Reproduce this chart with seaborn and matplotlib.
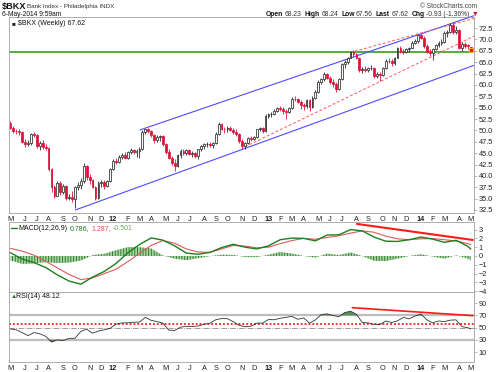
import numpy as np
import pandas as pd
import matplotlib
matplotlib.use("Agg")
import matplotlib.pyplot as plt
import seaborn as sns

sns.set_theme(style="white")
plt.rcParams["font.family"] = ["Liberation Sans", "DejaVu Sans"]
plt.rcParams["hatch.linewidth"] = 0.7

# ---------------- data (weekly $BKX, first bar = week of 2 May 2011) ----------------
start_date = "2011-05-02"
opens = [51.7, 50.6, 49.9, 49.8, 49.6, 47.5, 47.0, 47.2, 49.2, 49.0,
         46.6, 47.3, 46.3, 46.1, 41.5, 37.5, 35.6, 38.5, 36.4, 37.8,
         35.2, 35.4, 35.0, 37.5, 38.0, 38.8, 42.2, 39.8, 39.0, 37.6,
         35.2, 38.5, 38.6, 37.8, 38.9, 41.5, 43.3, 43.0, 44.2, 44.6,
         44.0, 45.3, 45.6, 45.2, 45.4, 45.8, 49.6, 50.2, 49.9, 49.0,
         47.8, 48.6, 48.7, 47.0, 45.2, 44.0, 42.8, 42.2, 44.5, 45.5,
         45.0, 45.7, 44.8, 45.0, 44.3, 45.8, 46.6, 46.9, 47.0, 46.8,
         47.2, 49.3, 51.4, 50.3, 50.2, 50.6, 50.0, 49.6, 49.2, 47.6,
         46.6, 47.3, 48.3, 48.2, 48.6, 50.2, 50.5, 49.8, 53.2, 53.5,
         53.7, 54.3, 55.0, 54.6, 54.3, 54.0, 55.0, 57.0, 56.8, 56.3,
         55.6, 55.3, 56.6, 55.2, 57.2, 58.5, 60.7, 61.2, 62.4, 61.6,
         60.6, 60.3, 59.0, 61.3, 64.5, 65.0, 66.0, 67.2, 66.7, 65.9,
         63.2, 63.6, 63.2, 63.7, 63.8, 62.0, 62.4, 62.2, 63.8, 65.3,
         65.2, 64.8, 66.0, 68.0, 67.4, 67.2, 67.8, 68.2, 69.3, 69.6,
         70.9, 70.4, 68.6, 67.3, 66.9, 67.9, 68.7, 69.3, 69.5, 71.4,
         71.6, 73.2, 71.6, 72.0, 68.2, 69.0, 68.6, 68.23]
highs = [52.0, 51.0, 50.4, 50.2, 49.8, 48.0, 47.8, 49.5, 49.6, 49.3,
         47.6, 47.8, 47.0, 46.4, 41.8, 38.0, 38.8, 38.9, 38.2, 38.0,
         36.0, 36.6, 37.8, 38.6, 39.5, 42.8, 42.3, 40.4, 39.4, 37.8,
         38.8, 39.2, 39.0, 39.2, 41.8, 43.6, 44.0, 44.5, 45.0, 45.2,
         45.5, 46.2, 46.0, 45.8, 46.3, 50.0, 50.4, 50.5, 50.1, 49.2,
         49.0, 49.0, 49.0, 47.3, 45.8, 44.3, 43.6, 44.8, 45.8, 46.0,
         45.9, 46.0, 45.4, 45.3, 46.0, 46.8, 47.3, 47.4, 47.5, 47.4,
         49.6, 51.8, 51.7, 50.8, 51.0, 51.0, 50.6, 50.3, 49.5, 48.0,
         47.5, 48.6, 48.7, 48.8, 50.4, 50.8, 50.7, 53.5, 53.8, 54.0,
         54.6, 55.2, 55.3, 55.2, 54.6, 55.2, 57.3, 57.6, 57.2, 56.6,
         56.0, 57.0, 57.0, 57.5, 58.8, 61.0, 61.6, 62.8, 62.6, 61.9,
         61.2, 60.6, 61.6, 64.8, 65.4, 66.2, 67.5, 67.6, 67.0, 66.1,
         64.0, 64.2, 64.0, 64.4, 64.0, 62.8, 62.8, 64.0, 65.6, 65.8,
         65.6, 66.2, 68.3, 68.5, 67.8, 68.0, 68.4, 69.6, 70.0, 71.2,
         71.3, 70.8, 69.0, 67.8, 68.2, 69.0, 69.6, 70.0, 71.8, 72.0,
         73.6, 73.9, 72.9, 72.3, 69.4, 69.4, 69.0, 68.24]
lows = [50.3, 49.5, 49.2, 49.0, 47.2, 46.4, 46.5, 46.8, 48.5, 46.2,
        45.7, 46.0, 45.6, 41.0, 36.5, 35.2, 35.5, 35.8, 36.0, 34.8,
        34.8, 34.2, 33.0, 36.8, 37.2, 38.5, 39.2, 38.3, 37.3, 34.8,
        35.0, 37.6, 37.2, 37.5, 38.6, 41.2, 42.6, 42.8, 43.8, 43.6,
        43.8, 44.8, 44.8, 44.2, 44.0, 45.6, 49.2, 49.4, 48.6, 47.2,
        47.4, 47.6, 46.6, 44.8, 43.6, 42.5, 41.0, 42.0, 44.0, 44.6,
        44.6, 44.5, 44.2, 43.9, 43.8, 45.4, 46.0, 46.3, 46.4, 46.2,
        47.0, 49.0, 50.0, 49.5, 49.6, 49.8, 49.2, 48.8, 47.3, 46.0,
        45.9, 47.0, 47.6, 47.8, 48.4, 49.8, 49.4, 49.6, 52.8, 53.0,
        53.4, 54.0, 54.2, 53.5, 52.6, 53.8, 54.8, 56.4, 56.0, 54.6,
        54.5, 55.0, 54.3, 55.0, 57.0, 58.3, 60.2, 60.8, 61.2, 60.2,
        59.6, 58.4, 58.8, 61.0, 63.8, 64.6, 65.8, 66.2, 65.6, 62.8,
        62.6, 62.8, 62.8, 63.2, 61.6, 61.5, 60.9, 62.0, 63.6, 64.8,
        64.2, 64.4, 65.8, 67.0, 66.8, 66.9, 67.2, 68.0, 69.0, 69.3,
        70.0, 68.2, 67.0, 66.3, 65.4, 67.6, 68.4, 68.8, 69.2, 70.6,
        71.4, 71.2, 71.2, 67.8, 67.4, 68.0, 67.8, 67.56]
closes = [50.6, 49.9, 49.8, 49.6, 47.5, 47.0, 47.2, 49.2, 49.0, 46.6,
          47.3, 46.3, 46.1, 41.5, 37.5, 35.6, 38.5, 36.4, 37.8, 35.2,
          35.4, 35.0, 37.5, 38.0, 38.8, 42.2, 39.8, 39.0, 37.6, 35.2,
          38.5, 38.6, 37.8, 38.9, 41.5, 43.3, 43.0, 44.2, 44.6, 44.0,
          45.3, 45.6, 45.2, 45.4, 45.8, 49.6, 50.2, 49.9, 49.0, 47.8,
          48.6, 48.7, 47.0, 45.2, 44.0, 42.8, 42.2, 44.5, 45.5, 45.0,
          45.7, 44.8, 45.0, 44.3, 45.8, 46.6, 46.9, 47.0, 46.8, 47.2,
          49.3, 51.4, 50.3, 50.2, 50.6, 50.0, 49.6, 49.2, 47.6, 46.6,
          47.3, 48.3, 48.2, 48.6, 50.2, 50.5, 49.8, 53.2, 53.5, 53.7,
          54.3, 55.0, 54.6, 54.3, 54.0, 55.0, 57.0, 56.8, 56.3, 55.6,
          55.3, 56.6, 55.2, 57.2, 58.5, 60.7, 61.2, 62.4, 61.6, 60.6,
          60.3, 59.0, 61.3, 64.5, 65.0, 66.0, 67.2, 66.7, 65.9, 63.2,
          63.6, 63.2, 63.7, 63.8, 62.0, 62.4, 62.2, 63.8, 65.3, 65.2,
          64.8, 66.0, 68.0, 67.4, 67.2, 67.8, 68.2, 69.3, 69.6, 70.9,
          70.4, 68.6, 67.3, 66.9, 67.9, 68.7, 69.3, 69.5, 71.4, 71.6,
          73.2, 71.6, 72.0, 68.2, 69.0, 68.6, 68.55, 67.62]

# MACD(12,26,9) read every 4 weeks (plus last week)
macd_weeks = list(range(0, 157, 4)) + [157]
macd_line = [0.37, -0.35, -0.75, -1.3, -2.15, -2.85, -3.2, -2.4, -1.75, -0.85,
             0.35, 1.3, 2.05, 1.8, 1.15, 0.33, 0.2, 0.4, 0.95, 1.33,
             1.0, 0.8, 1.15, 1.85, 2.03, 2.0, 1.72, 2.38, 2.4, 3.0,
             2.85, 2.15, 1.68, 1.65, 1.85, 2.15, 1.92, 1.55, 1.78, 1.1, 0.786]
macd_signal = [0.87, 0.55, 0.1, -0.6, -1.35, -2.1, -2.68, -2.5, -2.0, -1.5,
               -0.65, 0.3, 1.2, 1.75, 1.45, 0.8, 0.45, 0.42, 0.8, 1.2,
               1.12, 0.93, 1.0, 1.4, 1.75, 2.0, 1.9, 2.1, 2.3, 2.6,
               2.85, 2.7, 2.25, 1.95, 1.85, 1.95, 1.98, 1.85, 1.7, 1.4, 1.287]

# RSI(14) read every 2 weeks (plus last week)
rsi_weeks = list(range(0, 157, 2)) + [157]
rsi_vals = [47.9, 46.5, 42, 37, 42, 40, 36, 26.5, 30, 29,
            32.5, 32.6, 44, 47.5, 41, 44.5, 46.5, 49, 55.8, 57.8,
            58, 59, 59.2, 67, 62, 60, 57.5, 46, 45.5, 50.8,
            52.4, 52, 52.8, 55.5, 57.2, 63, 65, 64.8, 59.8, 54,
            51.5, 52.5, 57.5, 57.5, 63.4, 63, 65.5, 67, 68.6, 63.8,
            66, 57.5, 62.8, 71.5, 72.6, 70, 68, 74.8, 77, 72,
            58.5, 57.9, 55.5, 55, 61, 58.5, 61.2, 66.8, 64.5, 69.2,
            72.5, 63, 58, 61, 60, 62.4, 62.8, 51.7, 50, 48.12]

# drawn annotation lines: (week, value) end points
channel_low = ([22.1, 158.1], [32.5, 64.3])
channel_high = ([44.2, 158.1], [50.1, 75.2])
dashed_low = ([80.0, 158.1], [46.4, 70.7])
dashed_high = ([115.8, 158.1], [67.1, 74.6])
support_level = 67.2
macd_trend = ([118.2, 157.7], [3.64, 1.82])
rsi_trend = ([116.6, 157.7], [82.8, 69.7])
rsi_dotted_level = 55.6

# ---------------- figure ----------------
W, H = 500, 372
fig = plt.figure(figsize=(W / 100, H / 100), dpi=100)
fig.patch.set_facecolor("white")


def rect(x0, y0, x1, y1):
    return [x0 / W, 1 - y1 / H, (x1 - x0) / W, (y1 - y0) / H]


axp = fig.add_axes(rect(9, 17, 474, 213))
axm = fig.add_axes(rect(9, 222, 474, 292))
axr = fig.add_axes(rect(9, 292, 474, 362))

RED = "#dc143c"
BLK = "#2a2a2a"
XMAX = 158.1

wk = np.arange(len(closes))
o, h, l, c = (np.array(a, dtype=float) for a in (opens, highs, lows, closes))
prev = np.r_[np.inf, c[:-1]]
col = np.where(c < prev, RED, BLK)
up = c >= o

axp.vlines(wk, l, h, colors=col, lw=0.6, zorder=3)
body_up = np.maximum(c - o, 0.12)
body_dn = np.maximum(o - c, 0.12)
axp.bar(wk[up], body_up[up], bottom=o[up], width=0.62, facecolor="white",
        edgecolor=list(col[up]), linewidth=0.55, zorder=4)
axp.bar(wk[~up], body_dn[~up], bottom=c[~up], width=0.62, color=list(col[~up]),
        edgecolor=list(col[~up]), linewidth=0.55, zorder=4)

axp.axhline(support_level, color="#4aa52e", lw=1.3, zorder=2)
axp.plot(*channel_low, color="#4d4dff", lw=0.8, zorder=2)
axp.plot(*channel_high, color="#4d4dff", lw=0.8, zorder=2, clip_on=False)
axp.plot(*dashed_low, color="#ff5a5a", lw=0.7, ls=(0, (3, 2)), zorder=2)
axp.plot(*dashed_high, color="#ff5a5a", lw=0.7, ls=(0, (3, 2)), zorder=2)
axp.scatter([wk[-1]], [c[-1]], marker="s", s=9, facecolor="#e02020",
            edgecolor="#ffb000", linewidth=0.7, zorder=6)
axp.set_ylim(31.84, 74.92)
axp.set_yticks(np.arange(32.5, 73.0, 2.5))
axp.yaxis.set_major_formatter(matplotlib.ticker.FormatStrFormatter("%.1f"))

# MACD panel
hist = np.array(macd_line) - np.array(macd_signal)
axm.fill_between(macd_weeks, 0, hist, facecolor="#a9d3a2", edgecolor="#2f7f2f",
                 hatch="||||||", linewidth=0, zorder=1)
sns.lineplot(x=macd_weeks, y=macd_signal, ax=axm, color="#e05a5a", lw=0.8,
             sort=False, estimator=None, zorder=3)
sns.lineplot(x=macd_weeks, y=macd_line, ax=axm, color="#1f7f1f", lw=1.0,
             sort=False, estimator=None, zorder=4)
axm.plot(*macd_trend, color="#ff1a1a", lw=1.5, zorder=5)
axm.set_ylim(-4.09, 3.86)
axm.set_yticks([3, 2, 1, 0, -1, -2, -3, -4])

# RSI panel
rv = np.array(rsi_vals)
axr.axhline(70, color="#bdbdbd", lw=1.6, zorder=1)
axr.axhline(30, color="#bdbdbd", lw=1.6, zorder=1)
axr.axhline(50, color="#8a8a8a", lw=0.6, ls="-.", zorder=1)
axr.axhline(rsi_dotted_level, color="#ff3030", lw=1.4, ls=(0, (1, 1)), zorder=2)
axr.fill_between(rsi_weeks, 70, rv, where=rv > 70, interpolate=True,
                 color="#5a8f5a", lw=0, zorder=2)
axr.fill_between(rsi_weeks, 30, rv, where=rv < 30, interpolate=True,
                 color="#8b5a4e", lw=0, zorder=2)
sns.lineplot(x=rsi_weeks, y=rsi_vals, ax=axr, color="#333333", lw=0.6,
             sort=False, estimator=None, zorder=3)
axr.plot(*rsi_trend, color="#ff1a1a", lw=1.2, zorder=5)
axr.set_ylim(-6.2, 108.5)
axr.set_yticks([90, 70, 50, 30, 10])

# month ticks
dates = pd.date_range(start_date, periods=len(closes), freq="7D")
tick_pos, tick_lab = [], []
last_m = None
for i, d in enumerate(dates):
    if d.month != last_m:
        tick_pos.append(i)
        tick_lab.append(f"{d.year % 100:02d}" if d.month == 1 else d.strftime("%b")[0])
        last_m = d.month

for ax in (axp, axm, axr):
    ax.set_facecolor("white")
    ax.set_xlim(-0.5, XMAX)
    ax.grid(False)
    for s in ax.spines.values():
        s.set_color("#a0a0a0")
        s.set_linewidth(0.6)
    ax.yaxis.tick_right()
    ax.tick_params(axis="y", labelsize=5.3, length=2, width=0.5, pad=1.5,
                   colors="#a0a0a0", labelcolor="#222222")
    ax.set_xlabel("")
    ax.set_ylabel("")
    ax.set_xticks(tick_pos)
    ax.tick_params(axis="x", length=0, pad=2.0, labelsize=5.3, labelcolor="#222222")

axp.set_xticklabels(tick_lab)
axr.set_xticklabels(tick_lab)
axm.set_xticklabels([])
for ax in (axp, axr):
    for t in ax.get_xticklabels():
        if t.get_text().isdigit():
            t.set_fontweight("bold")

# ---------------- texts ----------------
def T(x, y, s, **kw):
    return fig.text(x / W, 1 - y / H, s, va="baseline", **kw)


def rich(x, y, pieces, size, ha="left"):
    r = fig.canvas.get_renderer()
    items = []
    for s, wt, cl, g in pieces:
        t = fig.text(0, 0, s, fontsize=size, fontweight=wt, color=cl, va="baseline")
        items.append((t, t.get_window_extent(r).width, g))
    total = sum(wd + g for _, wd, g in items) - items[-1][2]
    cur = x - total if ha == "right" else x
    for t, wd, g in items:
        t.set_position((cur / W, 1 - y / H))
        cur += wd + g


T(2, 8.5, "$BKX", fontsize=6.6, fontweight="bold", color="#111111")
T(27, 8.2, "Bank Index - Philadelphia INDX", fontsize=4.5, color="#333333")
T(2, 16, "6-May-2014 9:59am", fontsize=4.8, color="#111111")
T(477, 7.5, "© StockCharts.com", fontsize=4.8, color="#444444", ha="right")
rich(478, 16, [("Open", "bold", "#111", 1.5), ("68.23", "normal", "#333", 3),
               ("High", "bold", "#111", 1.5), ("68.24", "normal", "#333", 3),
               ("Low", "bold", "#111", 1.5), ("67.56", "normal", "#333", 3),
               ("Last", "bold", "#111", 1.5), ("67.62", "normal", "#333", 3),
               ("Chg", "bold", "#111", 1.5), ("-0.93 (-1.36%)", "normal", "#333", 2),
               ("▼", "normal", "#cc1133", 0)], 4.9, ha="right")
T(12, 25, "■", fontsize=4.5, color="#222222")
T(18, 25, "$BKX (Weekly) 67.62", fontsize=5.0, color="#111111")

fig.add_artist(matplotlib.lines.Line2D([10.5 / W, 16.5 / W], [1 - 227.8 / H] * 2,
                                       color="#1f7f1f", lw=1.0))
rich(18, 230, [("MACD(12,26,9)", "normal", "#111", 2.2), ("0.786,", "normal", "#1f7f1f", 2.2),
               ("1.287,", "normal", "#e05050", 2.2), ("-0.501", "normal", "#6aaa60", 0)], 5.0)
T(11, 297.5, "▲", fontsize=4.5, color="#2f6f2f")
T(16, 297.5, "RSI(14) 48.12", fontsize=5.0, color="#111111")

fig.savefig("out.png", dpi=100, facecolor="white")
